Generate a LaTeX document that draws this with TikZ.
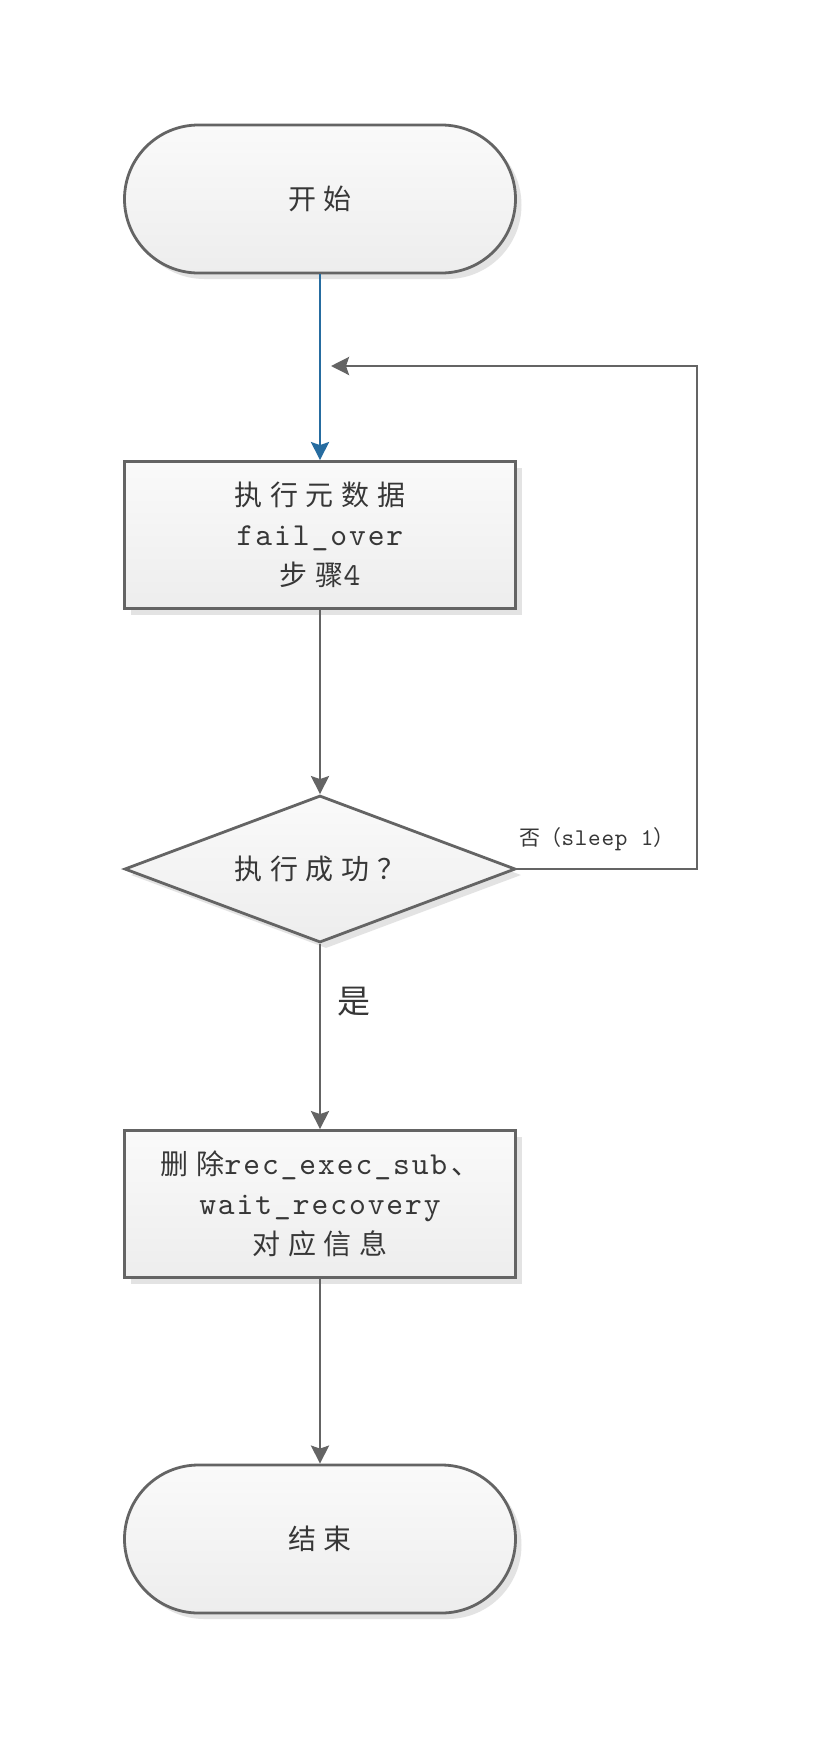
\documentclass[tikz,border=0pt]{standalone}
\usepackage{fontspec}
\usetikzlibrary{shapes.geometric,shadows,arrows.meta}
\newfontfamily\cjk[LetterSpace=28]{Noto Sans CJK SC}
\newfontfamily\cjkt{Noto Sans CJK SC}
\newfontfamily\lat[LetterSpace=6]{lmmono10-regular.otf}
\newfontfamily\latt[LetterSpace=3]{lmmono10-regular.otf}
\definecolor{linegray}{RGB}{100,100,100}
\definecolor{flowblue}{RGB}{38,108,160}
\definecolor{txt}{RGB}{55,55,55}
\begin{document}
\begin{tikzpicture}[x=1pt,y=-1pt,
  base/.style={draw=linegray, line width=2.8pt, top color=black!2, bottom color=black!7,
    drop shadow={shadow xshift=6pt, shadow yshift=-6pt, fill=black!11, opacity=1},
    text=txt, font=\fontsize{28pt}{40pt}\selectfont\cjk, align=center, inner sep=0pt},
  term/.style={base, rectangle, rounded corners=74pt, minimum width=391pt, minimum height=148pt},
  proc/.style={base, rectangle, minimum width=391pt, minimum height=147pt},
  decis/.style={base, diamond, aspect=2.66, minimum width=391pt, minimum height=147pt},
  conn/.style={draw=linegray, line width=2.8pt, -{Stealth[length=18pt,width=18pt,inset=3pt]}},
  lbl/.style={text=txt, inner sep=0pt},
]
\path[fill=white] (0,0) rectangle (828,1741);
\useasboundingbox (0,0) rectangle (828,1741);

\node[term] (start) at (320,199) {开始};
\node[proc] (p1) at (320,535) {执行元数据\\{\fontsize{32pt}{40pt}\selectfont\lat fail\_over}\\步骤{\fontsize{32pt}{40pt}\selectfont\lat 4}};
\node[decis] (dec) at (320,869) {执行成功？};
\node[proc] (p2) at (320,1204) {删除{\fontsize{32pt}{40pt}\selectfont\lat rec\_exec\_sub}\kern4pt 、\\{\fontsize{32pt}{40pt}\selectfont\lat wait\_recovery}\\对应信息};
\node[term] (stop) at (320,1539) {结束};

\coordinate (fbtop) at (697,366);
\coordinate (fb) at (331,366);

\draw[conn, draw=flowblue] (start.south) -- (p1.north);
\draw[conn] (p1.south) -- (dec.north);
\draw[conn] (dec.east) -| (fbtop) -- (fb);
\draw[conn] (dec.south) -- (p2.north);
\draw[conn] (p2.south) -- (stop.north);

\node[lbl, font=\fontsize{21pt}{24pt}\selectfont\cjkt] (nolabel) at (597,839) {否（{\fontsize{24pt}{26pt}\selectfont\latt sleep 1}）};
\node[lbl, font=\fontsize{33pt}{36pt}\selectfont\cjkt] (yes) at (354,1002) {是};
\end{tikzpicture}
\end{document}
